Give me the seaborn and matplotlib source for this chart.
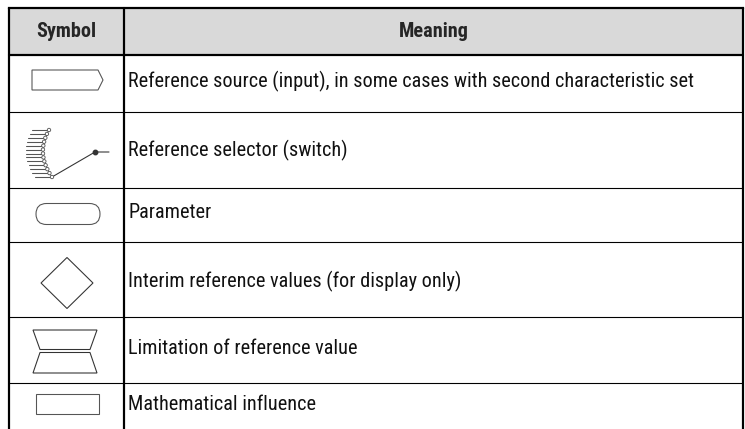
import numpy as np
import pandas as pd
import seaborn as sns
import matplotlib
matplotlib.use("Agg")
import matplotlib.pyplot as plt
from matplotlib.patches import Polygon, Rectangle, FancyBboxPatch, Circle
from matplotlib import font_manager

sns.set_theme(style="white")

# ---- table content ----
header = ["Symbol", "Meaning"]
symbols = ["source", "selector", "parameter", "interim", "limitation", "math"]
meanings = [
    "Reference source (input), in some cases with second characteristic set",
    "Reference selector (switch)",
    "Parameter",
    "Interim reference values (for display only)",
    "Limitation of reference value",
    "Mathematical influence",
]
df = pd.DataFrame({"symbol": symbols, "meaning": meanings})

# ---- layout (pixel units) ----
W, H = 745, 429
x_left, x_div, x_right = 9, 124, 743
row_edges = [8, 55, 112, 188, 242, 317, 383, 440]

names = {f.name for f in font_manager.fontManager.ttflist}
candidates = ["Liberation Sans Narrow", "Roboto Condensed", "Archivo Narrow", "PT Sans Narrow",
              "Pragati Narrow", "IBM Plex Sans Condensed", "Open Sans Condensed", "Liberation Sans"]
fam = next(c for c in candidates if c in names)
plt.rcParams["font.family"] = [fam, "DejaVu Sans"]

fig = plt.figure(figsize=(W / 100, H / 100), dpi=100)
ax = fig.add_axes([0, 0, 1, 1])
ax.set_xlim(0, W)
ax.set_ylim(H, 0)
ax.axis("off")

# calibrate font size so the longest line spans like the reference
renderer = fig.canvas.get_renderer()
probe = ax.text(0, 0, meanings[0], fontsize=12)
wpx = probe.get_window_extent(renderer).width
probe.remove()
fsize = 12 * 563 / wpx

px = 72 / 100  # points per pixel
thick = 2.2 * px
thin = 1.1 * px
gray = "#555555"

# header fill
ax.add_patch(Rectangle((x_left, row_edges[0]), x_right - x_left, row_edges[1] - row_edges[0],
                       facecolor="#d9d9d9", edgecolor="none", zorder=0))

# grid lines
ax.plot([x_left, x_right], [row_edges[0]] * 2, color="black", lw=thick, solid_capstyle="projecting")
ax.plot([x_left, x_right], [row_edges[1]] * 2, color="black", lw=thick)
for y in row_edges[2:-1]:
    ax.plot([x_left, x_right], [y, y], color="black", lw=thin)
for x in (x_left, x_div, x_right):
    ax.plot([x, x], [row_edges[0], H + 5], color="black", lw=thick)

# header text
hy = (row_edges[0] + row_edges[1]) / 2
ax.text((x_left + x_div) / 2, hy, header[0], ha="center", va="center", fontsize=fsize, fontweight="bold")
ax.text((x_div + x_right) / 2, hy, header[1], ha="center", va="center", fontsize=fsize, fontweight="bold")

# body text
text_y = [81, 150, 213, 281, 349, 405]
for i, row in df.iterrows():
    ax.text(x_div + 4, text_y[i], row["meaning"], ha="left", va="center", fontsize=fsize, color="#111111")

cx = 67
sw = 0.9 * px * 1.2

def draw_symbol(kind, cy):
    if kind == "source":
        pts = [(32, cy - 10), (98, cy - 10), (103, cy), (98, cy + 10), (32, cy + 10)]
        ax.add_patch(Polygon(pts, closed=True, fill=False, edgecolor=gray, lw=sw))
    elif kind == "selector":
        n = 13
        ys = np.linspace(cy - 23.5, cy + 23.5, n)
        t = (ys - ys[0]) / (ys[-1] - ys[0])
        xs = 43 + 30 * (t - 0.5) ** 2 + 3 * (t - 0.5)
        for xx, yy in zip(xs, ys):
            ax.plot([xx - 17, xx], [yy, yy], color=gray, lw=sw)
        ax.plot(xs, ys, color=gray, lw=sw * 0.8, zorder=2)
        ax.plot([xs[-1], 95, 109], [ys[-1], cy - 1.5, cy - 1.5], color="#333333", lw=sw)
        ax.plot([95], [cy - 1.5], "o", color="#333333", ms=3.2)
        for xx, yy in zip(xs, ys):
            ax.add_patch(Circle((xx, yy), 1.7, facecolor="white", edgecolor=gray, lw=sw * 0.8, zorder=3))
    elif kind == "parameter":
        ax.add_patch(FancyBboxPatch((36, cy - 10.5), 64, 21,
                                    boxstyle="round,pad=0,rounding_size=10.5",
                                    fill=False, edgecolor=gray, lw=sw, mutation_aspect=1))
    elif kind == "interim":
        pts = [(cx, cy - 25.5), (93, cy), (cx, cy + 25.5), (41, cy)]
        ax.add_patch(Polygon(pts, closed=True, fill=False, edgecolor="#333333", lw=sw))
    elif kind == "limitation":
        top = [(33, cy - 21), (97, cy - 21), (90, cy - 1.5), (40, cy - 1.5)]
        bot = [(40, cy + 1.5), (90, cy + 1.5), (97, cy + 22), (33, cy + 22)]
        ax.add_patch(Polygon(top, closed=True, fill=False, edgecolor="#333333", lw=sw))
        ax.add_patch(Polygon(bot, closed=True, fill=False, edgecolor="#333333", lw=sw))
    elif kind == "math":
        ax.add_patch(Rectangle((36, cy - 10), 63, 20, fill=False, edgecolor=gray, lw=sw))

sym_centers = [80, 153.5, 214, 283, 351, 404]
for kind, cy in zip(df["symbol"], sym_centers):
    draw_symbol(kind, cy)

fig.savefig("out.png", dpi=100, facecolor="white")
